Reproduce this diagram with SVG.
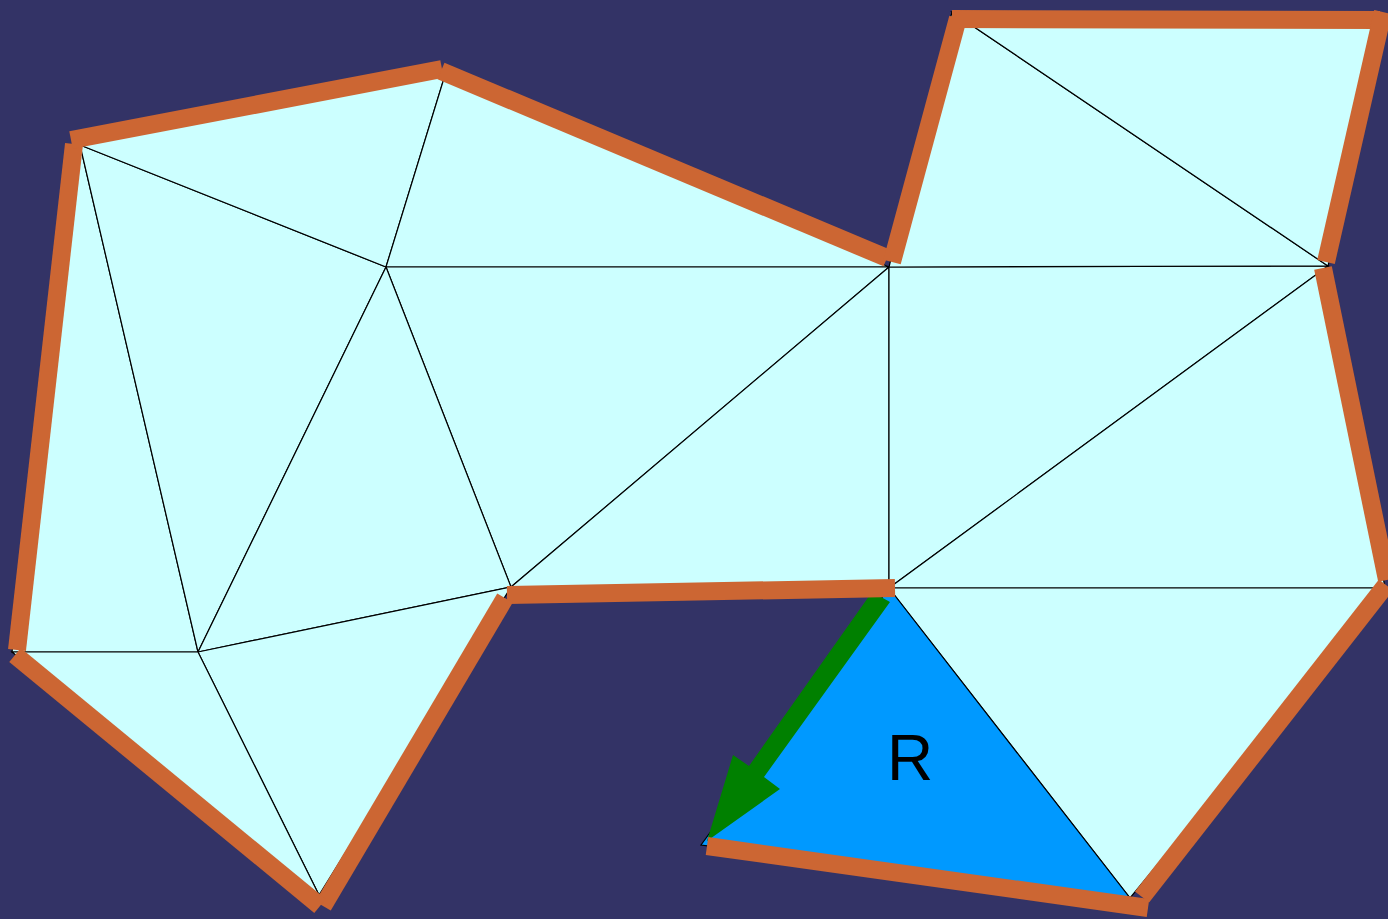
<svg xmlns="http://www.w3.org/2000/svg" width="1388" height="919" viewBox="0 0 1388 919">
<style>
.tri{fill:#ccffff;stroke:#000;stroke-width:1.2;stroke-linejoin:miter}
.sel{fill:#0099ff;stroke:#000;stroke-width:1.2}
.bd{stroke:#cc6633;stroke-width:18;stroke-linecap:butt;fill:none}
.lbl{font-family:"Liberation Sans",Arial,sans-serif;font-size:64px;fill:#000}
</style>
<rect width="1388" height="919" fill="#333366"/>
<g id="mesh">
<polygon id="t1" class="tri" points="12,652 80,145 198,652"/>
<polygon id="t2" class="tri" points="80,145 386,267 198,652"/>
<polygon id="t3" class="tri" points="80,145 445,75 386,267"/>
<polygon id="t4" class="tri" points="445,75 889,267 386,267"/>
<polygon id="t5" class="tri" points="386,267 889,267 511,587"/>
<polygon id="t6" class="tri" points="386,267 511,587 198,652"/>
<polygon id="t7" class="tri" points="198,652 511,587 319,895"/>
<polygon id="t8" class="tri" points="12,652 198,652 319,895"/>
<polygon id="t9" class="tri" points="889,267 889,588 511,587"/>
<polygon id="t10" class="tri" points="889,267 1328,266 889,588"/>
<polygon id="t11" class="tri" points="889,267 952,12 1328,266"/>
<polygon id="t12" class="tri" points="952,12 1385,15 1328,266"/>
<polygon id="t13" class="tri" points="1328,266 1385,588 889,588"/>
<polygon id="t14" class="tri" points="889,588 1385,588 1130,898"/>
<polygon id="t15" class="sel" points="889,588 1130,898 701,845"/>
</g>
<g id="arrow">
<polygon fill="#008000" points="872,592 890,602 764,777 780,789 707,841 733,755 749,766"/>
</g>
<g id="boundary">
<line class="bd" x1="17" y1="650" x2="74" y2="144"/>
<line class="bd" x1="71" y1="140" x2="442" y2="69"/>
<line class="bd" x1="441" y1="71" x2="887" y2="258"/>
<line class="bd" x1="892" y1="262" x2="958" y2="18"/>
<line class="bd" x1="952" y1="19" x2="1380" y2="20"/>
<line class="bd" x1="1383" y1="12" x2="1326" y2="262"/>
<line class="bd" x1="1323" y1="268" x2="1387" y2="580"/>
<line class="bd" x1="1386" y1="585" x2="1142" y2="897"/>
<line class="bd" x1="707" y1="846" x2="1148" y2="908"/>
<line class="bd" x1="507" y1="595" x2="895" y2="588"/>
<line class="bd" x1="505" y1="598" x2="323" y2="906"/>
<line class="bd" x1="15" y1="655" x2="320" y2="906"/>
</g>
<text class="lbl" x="910" y="780" text-anchor="middle">R</text>
</svg>
